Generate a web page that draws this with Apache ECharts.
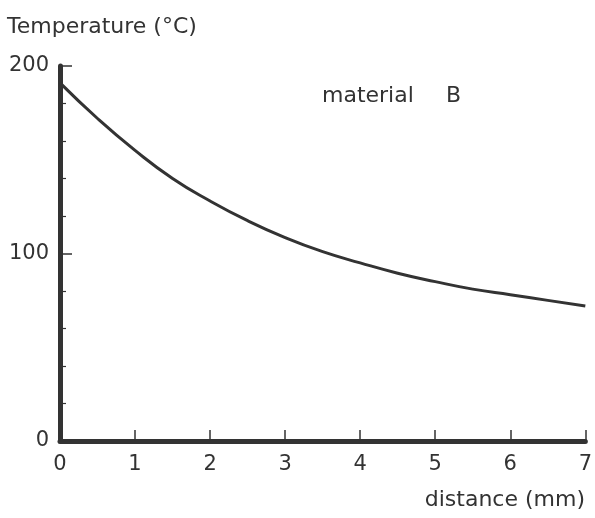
<!DOCTYPE html>
<html>
<head>
<meta charset="utf-8">
<script src="https://cdn.jsdelivr.net/npm/echarts@6/dist/echarts.min.js"></script>
<style>
  html, body { margin: 0; padding: 0; background: #fff; }
  #chart { width: 595px; height: 518px; }
</style>
</head>
<body>
<div id="chart"></div>
<script>
// distance (mm) and temperature (°C)
const distance = [0, 0.5, 1, 1.5, 2, 2.5, 3, 3.5, 4, 4.5, 5, 5.5, 6, 6.5, 7];
const temperature = [191, 172, 155, 140, 128, 117.5, 108.5, 101, 95, 89.5, 85, 81, 78, 75, 72];
const xTicks = [0, 7, 1];       // min, max, step
const yTicks = [0, 200, 100];   // min, max, step

const ink = '#333';
const font = 'DejaVu Sans';

const chart = echarts.init(document.getElementById('chart'));
chart.setOption({
    animation: false,
    grid: { left: 60, right: 7, top: 66, bottom: 77 },
    xAxis: {
        type: 'value',
        min: xTicks[0], max: xTicks[1], interval: xTicks[2],
        axisLine: { lineStyle: { color: ink, width: 5 } },
        axisTick: { inside: true, length: 11, lineStyle: { color: ink, width: 1.5 } },
        axisLabel: { color: ink, fontSize: 21, fontFamily: font, margin: 13 },
        splitLine: { show: false }
    },
    yAxis: {
        type: 'value',
        min: yTicks[0], max: yTicks[1], interval: yTicks[2],
        axisLine: { show: true, lineStyle: { color: ink, width: 5 } },
        axisTick: { show: true, inside: true, length: 12, lineStyle: { color: ink, width: 1.5 } },
        minorTick: { show: true, splitNumber: 5, length: 6, lineStyle: { color: ink, width: 1.2 } },
        axisLabel: { color: ink, fontSize: 21, fontFamily: font, margin: 11 },
        splitLine: { show: false }
    },
    series: [{
        type: 'line',
        data: distance.map((d, i) => [d, temperature[i]]),
        smooth: true,
        showSymbol: false,
        lineStyle: { color: ink, width: 3 }
    }],
    graphic: [
        { type: 'text', left: 7, top: 16, style: { text: 'Temperature (°C)', fill: ink, font: '22px ' + font } },
        { type: 'text', left: 322, top: 85, style: { text: 'material', fill: ink, font: '22px ' + font } },
        { type: 'text', left: 446, top: 85, style: { text: 'B', fill: ink, font: '22px ' + font } },
        { type: 'text', right: 10, top: 489, style: { text: 'distance (mm)', fill: ink, font: '22px ' + font } }
    ]
});
</script>
</body>
</html>
